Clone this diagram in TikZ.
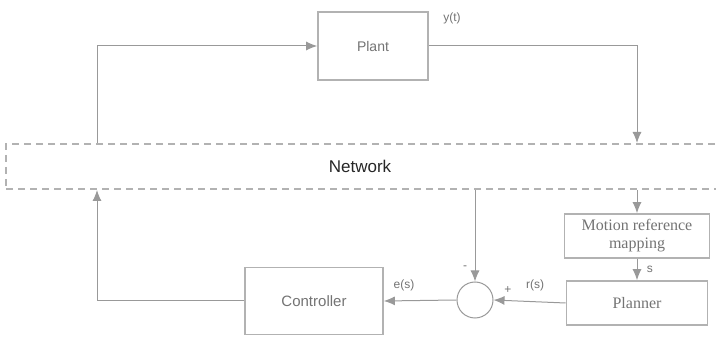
\documentclass[tikz,border=0pt]{standalone}
\usepackage{fontspec}
\setmainfont{Liberation Serif}
\setsansfont{Liberation Sans}
\usetikzlibrary{arrows.meta}
\begin{document}
\begin{tikzpicture}[x=1pt,y=-1pt,
  blk/.style={draw=gray!60,line width=1.6pt,rectangle,inner sep=0pt},
  conn/.style={draw=gray!80,line width=1pt,-{Latex[length=11pt,width=9pt]}},
  lbl/.style={font=\sffamily\fontsize{12}{14}\selectfont,text=gray!90!black}]
\useasboundingbox (0,0) rectangle (716,339);
\node[blk,minimum width=110pt,minimum height=68pt,font=\sffamily\fontsize{14}{16}\selectfont,text=gray!90!black] (plant) at (373,46) {Plant};
\node[draw=gray!60,line width=2pt,dash pattern=on 7pt off 5pt,rectangle,minimum width=716pt,minimum height=45pt,anchor=north west,inner sep=0pt] (net) at (5,143) {};
\node[font=\sffamily\fontsize{17}{19}\selectfont,text=gray!30!black] (nettext) at (360,166) {Network};
\node[blk,minimum width=145pt,minimum height=44pt,align=center,font=\fontsize{16}{18}\selectfont,text=gray!90!black] (mrm) at (637,236) {Motion reference\\mapping};
\node[blk,minimum width=141pt,minimum height=44pt,font=\fontsize{16}{18}\selectfont,text=gray!90!black] (planner) at (637,303) {Planner};
\node[draw=gray!80,line width=1pt,circle,minimum size=36pt,inner sep=0pt] (sum) at (475,300) {};
\node[blk,minimum width=138pt,minimum height=67pt,font=\sffamily\fontsize{15}{17}\selectfont,text=gray!90!black] (ctrl) at (314,301) {Controller};
\coordinate (aL) at (97,45);
\draw[conn] (net.north -| aL) |- (plant.west);
\draw[conn] (plant.east) -| (net.north -| mrm.north);
\draw[conn] (net.south -| mrm.north) -- (mrm.north);
\draw[conn] (mrm.south) -- node[lbl,right,xshift=6pt] (slab) {s} (planner.north);
\draw[conn] (planner.west) -- (sum.east);
\draw[conn] (net.south -| sum.north) -- (sum.north);
\draw[conn] (sum.west) -- (ctrl.east);
\draw[conn] (ctrl.west) -| (net.south -| aL);
\node[lbl] (ylab) at (452,18) {y(t)};
\node[lbl] (rlab) at (535,285) {r(s)};
\node[lbl] (plus) at (508,290) {+};
\node[lbl] (minus) at (465,268) {-};
\node[lbl] (elab) at (404,285) {e(s)};
\end{tikzpicture}
\end{document}
